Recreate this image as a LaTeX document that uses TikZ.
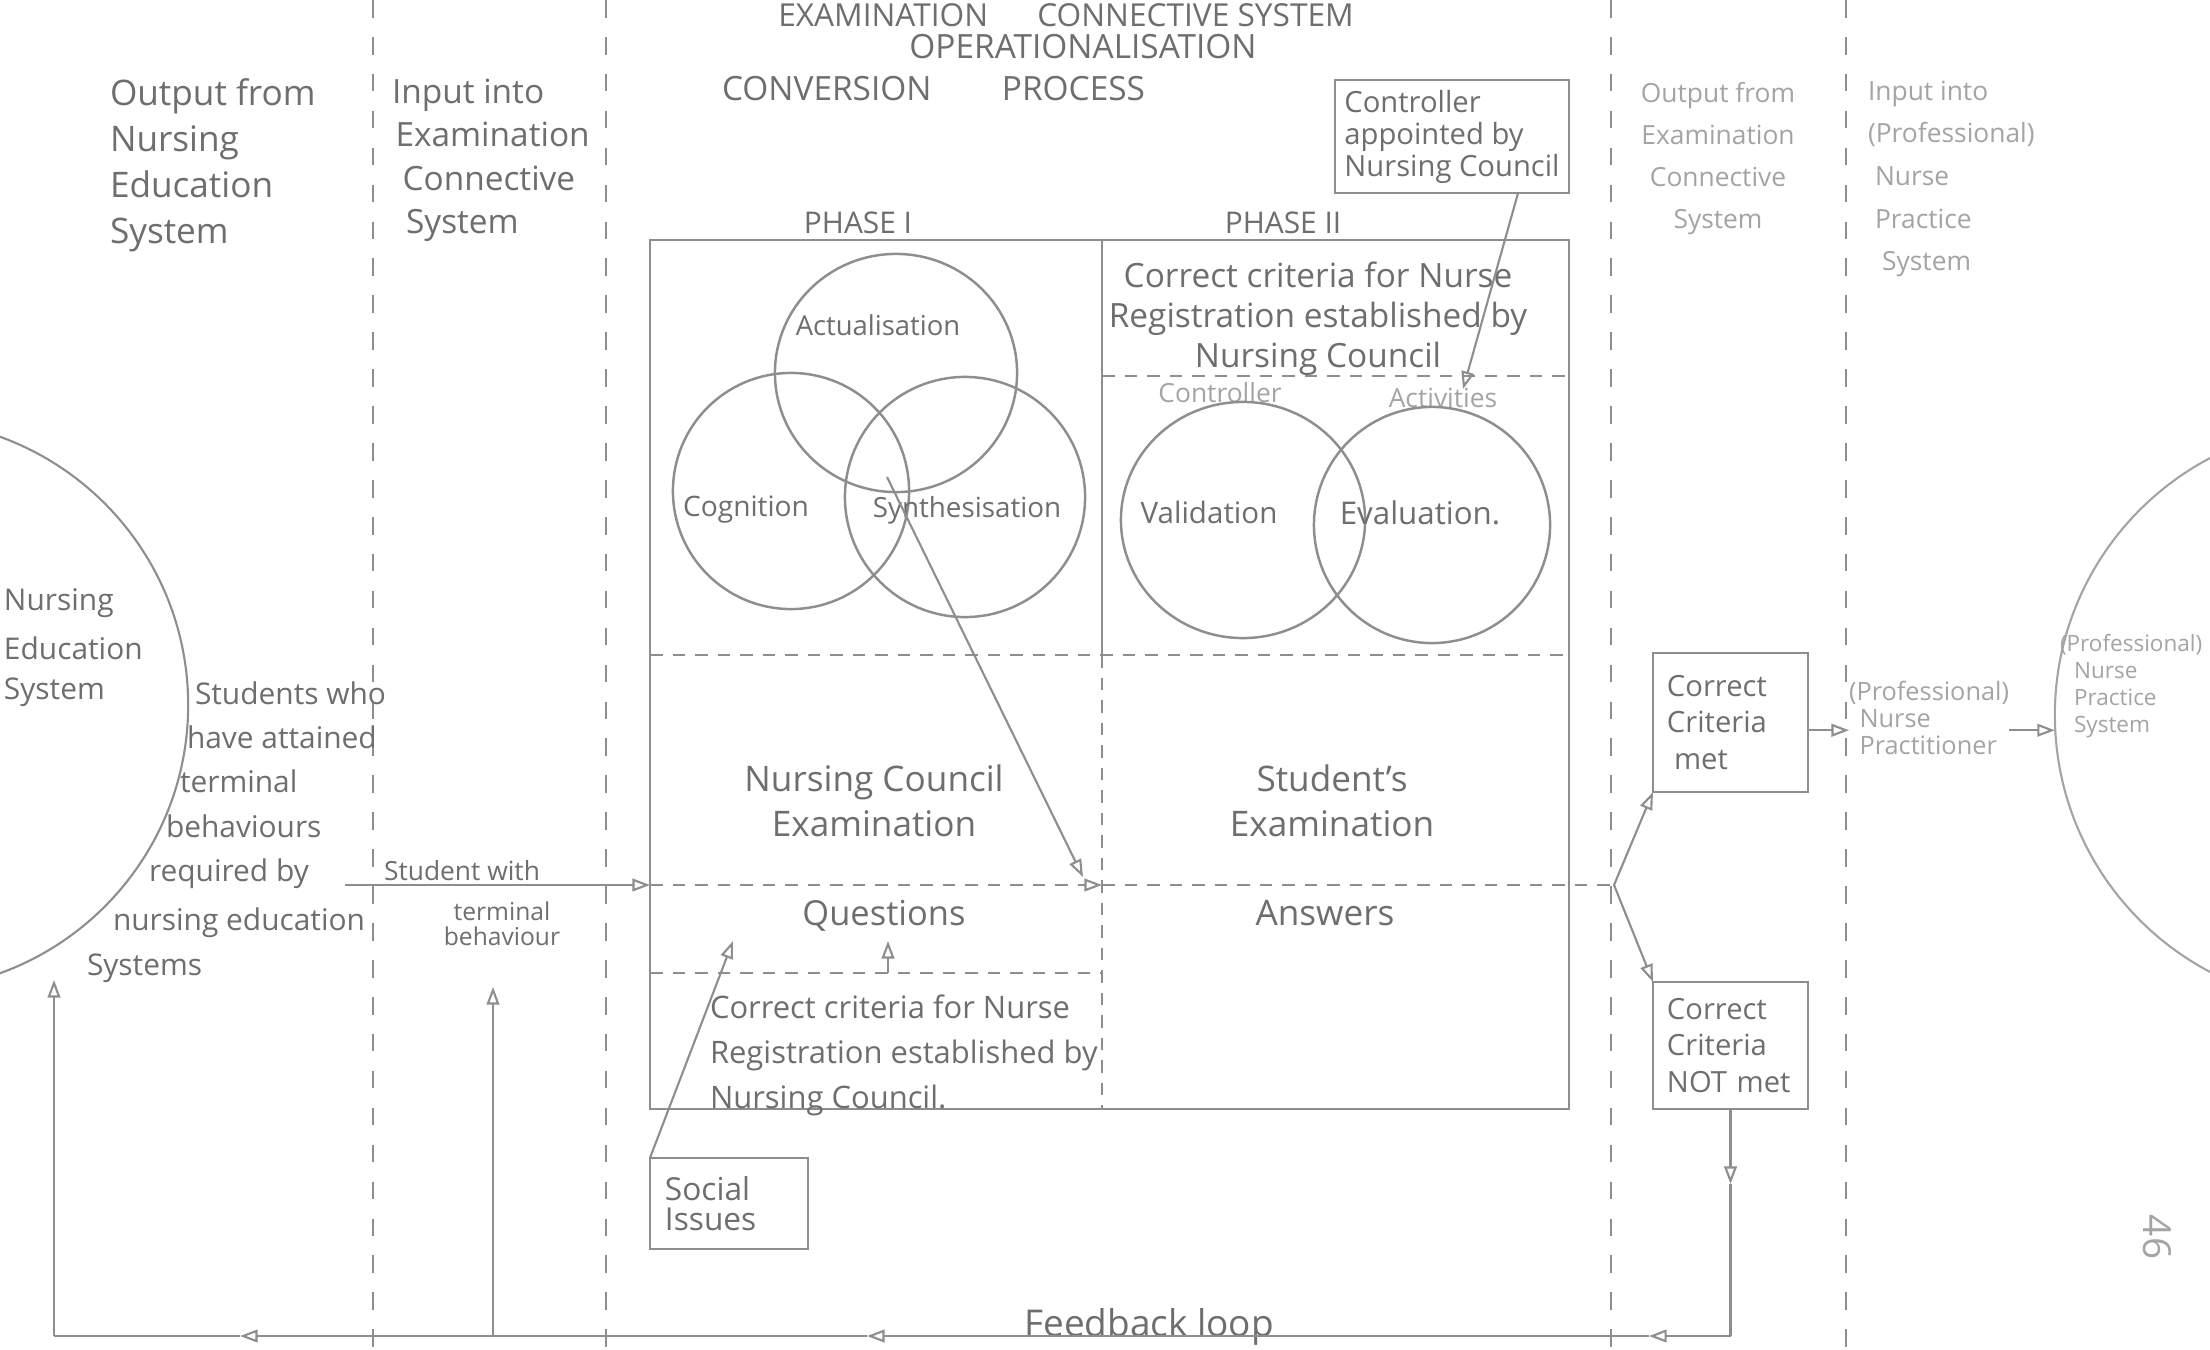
\documentclass[tikz,border=0pt]{standalone}
\usepackage{fontspec}
\setmainfont{Open Sans}
\usetikzlibrary{arrows.meta}

\definecolor{ink}{HTML}{6E6E6E}
\definecolor{lead}{HTML}{8E8E8E}
\definecolor{faint}{HTML}{A4A4A4}

\newcommand{\setfs}[2]{\fontsize{#1pt}{#2pt}\selectfont}

\begin{document}
\begin{tikzpicture}[x=0.01cm, y=-0.01cm,
  >={Triangle[open,length=5pt,width=3.6pt]},
  every node/.style={inner sep=0pt, outer sep=0pt, text=ink},
  pen/.style={draw=lead, line width=0.6pt},
  colline/.style={draw=lead, line width=0.6pt, dash pattern=on 5pt off 5.5pt},
  split/.style={draw=lead, line width=0.6pt, dash pattern=on 3.6pt off 2.8pt},
  venn/.style={draw=lead, line width=0.7pt},
  boxed/.style={draw=lead, line width=0.6pt, align=left},
  note/.style={align=left},
  dim/.style={text=faint},
]
\useasboundingbox (0,0) rectangle (2210,1349);
\fill[white] (0,0) rectangle (2210,1349);

\begin{scope}
\clip (0,0) rectangle (2210,1349);

% column dividers
\foreach \cx in {373,606,1611,1846} \draw[colline] (\cx,0) -- (\cx,1349);

% headings of the connective system
\node[font=\setfs{9}{11}, anchor=base] (title) at (1066,27) {EXAMINATION\hspace{14pt}CONNECTIVE SYSTEM};
\node[font=\setfs{9.5}{12}, anchor=base] (oper) at (1083,59) {OPERATIONALISATION};
\node[font=\setfs{9.5}{12}, anchor=base west] (conv) at (722,101) {CONVERSION\hspace{20pt}PROCESS};

% column headings
\node[note, font=\setfs{10}{13}, anchor=north west] (h1) at (110,79) {Output from\\Nursing\\Education\\System};
\node[note, font=\setfs{9.5}{12.3}, anchor=north west] (h2) at (392,79) {Input into\\\hspace*{1pt}Examination\\\hspace*{3pt}Connective\\\hspace*{4pt}System};
\node[align=center, dim, font=\setfs{7.5}{12}, anchor=north] (h3) at (1718,82) {Output from\\Examination\\Connective\\System};
\node[note, dim, font=\setfs{7.5}{12.1}, anchor=north west] (h4) at (1868,81) {Input into\\(Professional)\\\hspace*{2pt}Nurse\\\hspace*{2pt}Practice\\\hspace*{4pt}System};

% the two neighbouring systems
\node[circle, pen, minimum size=5.7cm] (nes) at (-97,705) {};
\node[circle, pen, draw=faint, minimum size=5.8cm] (nps) at (2345,715) {};

\node[font=\setfs{8.5}{10}, anchor=west] (nesA) at (4,603) {Nursing};
\node[font=\setfs{8.5}{10}, anchor=west] (nesB) at (4,648) {Education};
\node[font=\setfs{8.5}{10}, anchor=west] (nesC) at (4,692) {System};

\node[font=\setfs{8.5}{10}, anchor=west] (st1) at (195,693) {Students who};
\node[font=\setfs{8.5}{10}, anchor=west] (st2) at (187,737) {have attained};
\node[font=\setfs{8.5}{10}, anchor=west] (st3) at (180,781) {terminal};
\node[font=\setfs{8.5}{10}, anchor=west] (st4) at (166,826) {behaviours};
\node[font=\setfs{8.5}{10}, anchor=west] (st5) at (149,874) {required by};
\node[font=\setfs{8.5}{10}, anchor=west] (st6) at (113,923) {nursing education};
\node[font=\setfs{8.5}{10}, anchor=west] (st7) at (87,968) {Systems};

\node[font=\setfs{7.5}{9}, anchor=base] (swith) at (462,880) {Student with};
\node[align=center, font=\setfs{7}{7}, anchor=north] (tbeh) at (502,902) {terminal\\behaviour};

% conversion process frame
\node[pen, minimum width=9.19cm, minimum height=8.69cm] (frame) at (1109.5,674.5) {};
\draw[pen] (1102,240) -- (1102,655);
\draw[split] (1102,655) -- (1102,1109);
\draw[split] (650,655) -- (1569,655);
\draw[split] (1102,376) -- (1569,376);
\draw[split] (650,973) -- (1102,973);

\node[font=\setfs{8.5}{10}, anchor=base] (ph1) at (858,234) {PHASE I};
\node[font=\setfs{8.5}{10}, anchor=base] (ph2) at (1283,234) {PHASE II};

% phase I
\draw[venn] (896,373) ellipse [x radius=1.21cm, y radius=1.19cm];
\draw[venn] (791,491) ellipse [x radius=1.18cm, y radius=1.18cm];
\draw[venn] (965,497) ellipse [x radius=1.20cm, y radius=1.20cm];
\node[font=\setfs{7.8}{9}] (actu) at (878,325) {Actualisation};
\node[font=\setfs{8}{10}] (cogn) at (746,510) {Cognition};
\node[font=\setfs{7.9}{10}] (synt) at (967,510) {Synthesisation};

% phase II
\node[align=center, font=\setfs{9.5}{11.4}, anchor=north] (crit2) at (1318,262) {Correct criteria for Nurse\\Registration established by\\Nursing Council};
\node[dim, font=\setfs{7.5}{9}] (ctrlword) at (1220,393) {Controller};
\node[dim, font=\setfs{7.5}{9}] (actword) at (1443,398) {Activities};
\draw[venn] (1243,520) ellipse [x radius=1.22cm, y radius=1.18cm];
\draw[venn] (1432,525) ellipse [x radius=1.18cm, y radius=1.18cm];
\node[font=\setfs{8.4}{10}] (vali) at (1209,512) {Validation};
\node[font=\setfs{8.9}{10}] (eval) at (1420,513) {Evaluation.};

\node[boxed, font=\setfs{8.3}{9.1}, minimum width=2.34cm, minimum height=1.13cm] (ctrl) at (1452,136.5) {Controller\\appointed by\\Nursing Council};

% examination
\node[align=center, font=\setfs{10}{12.8}] (ncexam) at (874,801) {Nursing Council\\Examination};
\node[align=center, font=\setfs{10}{12.8}] (stexam) at (1332,801) {Student's\\Examination};
\node[font=\setfs{9.8}{12}] (questions) at (884,916) {Questions};
\node[font=\setfs{10}{12}] (answers) at (1325,913) {Answers};
\node[note, font=\setfs{8.8}{12.8}, anchor=north west] (crit1) at (710,995) {Correct criteria for Nurse\\Registration established by\\Nursing Council.};

\node[boxed, font=\setfs{9}{8.5}, text width=1.28cm, minimum width=1.58cm, minimum height=0.91cm] (social) at (729,1203.5) {Social\\Issues};

% outcomes
\node[boxed, font=\setfs{8.3}{10.5}, text width=1.27cm, minimum width=1.55cm, minimum height=1.39cm] (met) at (1730.5,722.5) {Correct\\Criteria\\\hspace*{2pt}met};
\node[boxed, font=\setfs{8.3}{10.5}, text width=1.27cm, minimum width=1.55cm, minimum height=1.27cm] (notmet) at (1730.5,1045.5) {Correct\\Criteria\\NOT met};

\node[note, dim, font=\setfs{7.2}{7.7}, anchor=north west] (prof) at (1849,681) {(Professional)\\\hspace*{3pt}Nurse\\\hspace*{3pt}Practitioner};
\node[note, dim, font=\setfs{6.4}{7.7}, anchor=north west] (npstext) at (2060,634) {(Professional)\\\hspace*{4pt}Nurse\\\hspace*{4pt}Practice\\\hspace*{4pt}System};

\node[font=\setfs{10.5}{12}, anchor=base] (fbtext) at (1149,1336) {Feedback loop};
\node[dim, font=\setfs{11}{12}, rotate=-90] (pageno) at (2157,1237) {46};

% flow of students through the examination
\coordinate (reqend) at (345,885);
\coordinate (flowL) at (650,885);
\coordinate (flowM) at (1102,885);
\coordinate (fork) at (1614,885);
\draw[pen,->] (reqend) -- (flowL);
\draw[split,->] (flowL) -- (flowM);
\draw[split] (flowM) -- (fork);
\draw[pen,->] (fork) -- (met.south west);
\draw[pen,->] (fork) -- (notmet.north west);
\coordinate (metout) at ([yshift=-2.2pt]met.east);
\draw[pen,->] (metout) -- (metout -| prof.west);
\draw[pen,->] (prof.east |- metout) -- (nps.west |- metout);

% influences
\coordinate (synthcore) at (887,477);
\coordinate (examtip) at (1083,877);
\draw[pen,->] (synthcore) -- (examtip);
\coordinate (ctrltip) at (1463,389);
\draw[pen,->] ([xshift=0.66cm]ctrl.south) -- (ctrltip);
\coordinate (qfoot) at (888,973);
\coordinate (qtip) at (888,941);
\draw[pen,->] (qfoot) -- (qtip);
\coordinate (socialtip) at (733,941);
\draw[pen,->] (social.north west) -- (socialtip);

% feedback loop
\coordinate (fbdown) at (1730.5,1184);
\coordinate (fbR) at (1730.5,1336);
\coordinate (fb3) at (1649,1336);
\coordinate (fb2) at (867,1336);
\coordinate (fb1) at (240,1336);
\coordinate (fbM) at (493,1336);
\coordinate (fbL) at (54,1336);
\coordinate (fbLtip) at (54,980);
\coordinate (fbMtip) at (493,987);
\draw[pen,->] (notmet.south) -- (fbdown);
\draw[pen] (fbdown) -- (fbR);
\draw[pen,->] (fbR) -- (fb3);
\draw[pen,->] (fb3) -- (fb2);
\draw[pen,->] (fb2) -- (fb1);
\draw[pen] (fb1) -- (fbL);
\draw[pen,->] (fbL) -- (fbLtip);
\draw[pen,->] (fbM) -- (fbMtip);
\end{scope}
\end{tikzpicture}
\end{document}
